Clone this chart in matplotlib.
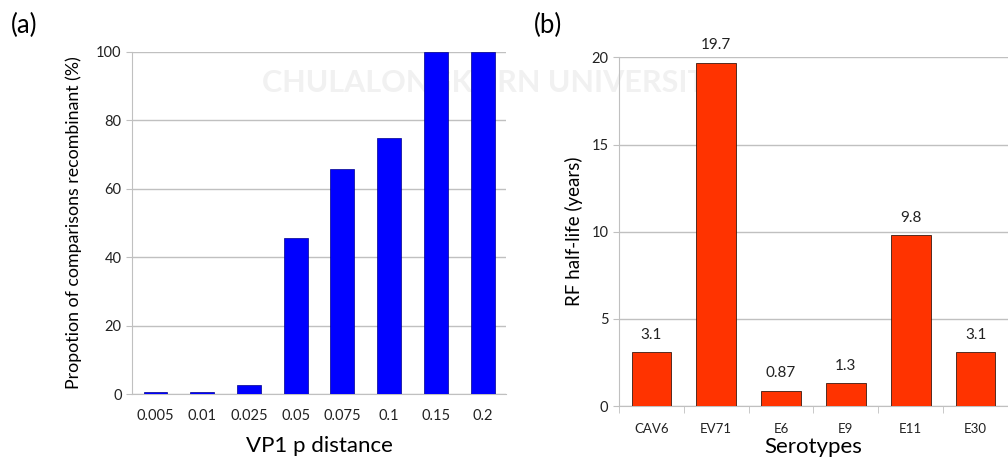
import matplotlib.pyplot as plt
import numpy as np

plt.rcParams['font.family'] = ['Lato', 'DejaVu Sans']

# panel (a)
dist_labels = ['0.005', '0.01', '0.025', '0.05', '0.075', '0.1', '0.15', '0.2']
pct_recomb = [0.5, 0.5, 2.5, 45.5, 65.7, 74.8, 100, 100]

# panel (b)
serotypes = ['CAV6', 'EV71', 'E6', 'E9', 'E11', 'E30']
half_life = [3.1, 19.7, 0.87, 1.3, 9.8, 3.1]
half_life_txt = ['3.1', '19.7', '0.87', '1.3', '9.8', '3.1']

grid_c = '#c0c0c0'

fig = plt.figure(figsize=(10.08, 4.63), dpi=100)

# faint watermark behind the plots
fig.text(0.49, 0.82, 'CHULALONGKORN UNIVERSITY', ha='center', va='center',
         fontsize=22, color='#f1f1f1', zorder=-5, fontweight='bold')

ax1 = fig.add_axes([0.131, 0.149, 0.371, 0.739])
ax1.set_facecolor('none')
x1 = np.arange(len(dist_labels))
ax1.bar(x1, pct_recomb, width=0.51, color='#0000ff', edgecolor='#00008b',
        linewidth=0.5, zorder=3)
ax1.set_xlim(-0.5, 7.5)
ax1.set_ylim(0, 100)
ax1.set_yticks([0, 20, 40, 60, 80, 100])
ax1.set_xticks(x1)
ax1.set_xticklabels(dist_labels)
ax1.yaxis.grid(True, color=grid_c, linewidth=1)
ax1.set_axisbelow(True)
for s in ['top', 'right']:
    ax1.spines[s].set_visible(False)
ax1.spines['left'].set_color(grid_c)
ax1.spines['bottom'].set_color(grid_c)
ax1.tick_params(axis='x', length=0, pad=11, labelsize=10.5, colors='#222222')
ax1.tick_params(axis='y', length=4, color=grid_c, labelsize=10.5, colors='#222222')
ax1.set_ylabel('Propotion of comparisons recombinant (%)', fontsize=12.8, labelpad=10)
ax1.set_xlabel('VP1 p distance', fontsize=16, labelpad=9)
fig.text(0.011, 0.945, '(a)', fontsize=18.5, va='center')

ax2 = fig.add_axes([0.614, 0.123, 0.386, 0.753])
ax2.set_facecolor('none')
x2 = np.arange(len(serotypes))
ax2.bar(x2, half_life, width=0.61, color='#ff3300', edgecolor='#3a1a10',
        linewidth=0.6, zorder=3)
for xi, v, t in zip(x2, half_life, half_life_txt):
    ax2.text(xi, v + 0.6, t, ha='center', va='bottom', fontsize=11, color='#222222')
ax2.set_xlim(-0.5, 5.44)
ax2.set_ylim(0, 20)
ax2.set_yticks([0, 5, 10, 15, 20])
ax2.set_xticks(x2)
ax2.set_xticklabels(serotypes)
ax2.set_xticks(np.arange(-0.5, 6, 1), minor=True)
ax2.yaxis.grid(True, color=grid_c, linewidth=1)
ax2.set_axisbelow(True)
for s in ['top', 'right']:
    ax2.spines[s].set_visible(False)
ax2.spines['left'].set_color(grid_c)
ax2.spines['bottom'].set_color(grid_c)
ax2.tick_params(axis='x', which='major', length=0, pad=12, labelsize=9.5, colors='#222222')
ax2.tick_params(axis='x', which='minor', length=5, color=grid_c)
ax2.tick_params(axis='y', length=4, color=grid_c, labelsize=10.5, colors='#222222')
ax2.set_ylabel('RF half-life (years)', fontsize=13.5, labelpad=6)
ax2.set_xlabel('Serotypes', fontsize=16, labelpad=2)
fig.text(0.53, 0.945, '(b)', fontsize=18.5, va='center')

fig.savefig('out.png', dpi=100)
